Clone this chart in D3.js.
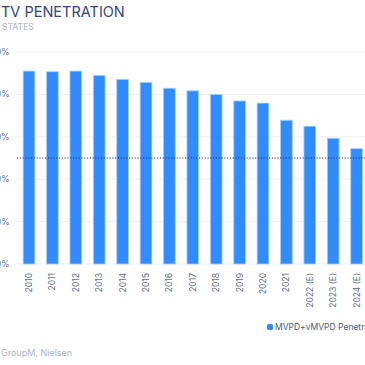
<!DOCTYPE html>
<html><head><meta charset="utf-8">
<script src="https://cdn.jsdelivr.net/npm/d3@7"></script>
<style>
html,body{margin:0;padding:0;background:#fff;overflow:hidden;}
svg{display:block;}
</style></head>
<body>
<svg id="c" width="365" height="365"></svg>
<script>
const years = ["2010","2011","2012","2013","2014","2015","2016","2017","2018","2019","2020","2021","2022 (E)","2023 (E)","2024 (E)"];
const penetration = [91.0,90.7,91.0,89.0,87.1,85.7,82.9,81.7,80.0,76.9,75.9,67.8,65.0,59.3,54.4];
const yTicks = [0,20,40,60,80,100];
const refLine = 50;
const seriesName = "MVPD+vMVPD Penetration";
const titleText = ["US ", "TV PENETRATION"];
const subtitleText = ["UNITED ", "STATES"];
const sourceText = ["Source: ", "GroupM, Nielsen"];

const FONT = "Inter, 'Open Sans', sans-serif";
const svg = d3.select("#c");

const y = d3.scaleLinear().domain([0,100]).range([264,52]);
const x = d3.scaleBand().domain(years).range([17.3,368.3]).paddingInner(0.5).paddingOuter(0.25);

function clippedText(parts, targetX, yPos, size, color, weight){
  const t = svg.append("text").attr("y", yPos).attr("font-family", FONT)
    .attr("font-size", size).attr("fill", color).attr("font-weight", weight||400)
    .text(parts[0]+parts[1]);
  const w = t.node().getSubStringLength(0, parts[0].length);
  t.attr("x", targetX - w);
  return t;
}

clippedText(titleText, 1, 17, 14.5, "#34467a", 400);
clippedText(subtitleText, 2, 30, 8.5, "#b9bcc4", 500);
clippedText(sourceText, 1, 356, 9, "#b0b3b9", 400);

svg.append("g").selectAll("line").data(yTicks).join("line")
  .attr("x1", 16).attr("x2", 365)
  .attr("y1", d=>y(d)).attr("y2", d=>y(d))
  .attr("stroke", "#eeeff2").attr("stroke-width", 1);

svg.append("g").selectAll("text").data(yTicks).join("text")
  .attr("x", 9.5).attr("y", d=>y(d)+3)
  .attr("text-anchor","end").attr("font-family", FONT).attr("font-size", 8.5)
  .attr("fill","#5c6b88").text(d=>d+"%");

svg.append("g").selectAll("rect").data(penetration).join("rect")
  .attr("x",(d,i)=>x(years[i])).attr("width", x.bandwidth())
  .attr("y", d=>y(d)).attr("height", d=>y(0)-y(d))
  .attr("fill","#318cff").attr("stroke","#a8cdfd").attr("stroke-width",0.8);

svg.append("line").attr("x1",17).attr("x2",365)
  .attr("y1", y(refLine)).attr("y2", y(refLine))
  .attr("stroke","#2d3060").attr("stroke-width",1.2).attr("stroke-dasharray","1.2,1.6");

svg.append("g").selectAll("text").data(years).join("text")
  .attr("transform", d=>`translate(${x(d)+x.bandwidth()/2+3},273) rotate(-90)`)
  .attr("text-anchor","end").attr("font-family", FONT).attr("font-size", 8.5)
  .attr("fill","#5c6b88").text(d=>d);

svg.append("rect").attr("x",267).attr("y",324).attr("width",6).attr("height",6).attr("rx",1.5)
  .attr("fill","#318cff");
svg.append("text").attr("x",275).attr("y",330).attr("font-family",FONT).attr("font-size",8.5)
  .attr("fill","#4b5878").text(seriesName);
</script>
</body></html>
